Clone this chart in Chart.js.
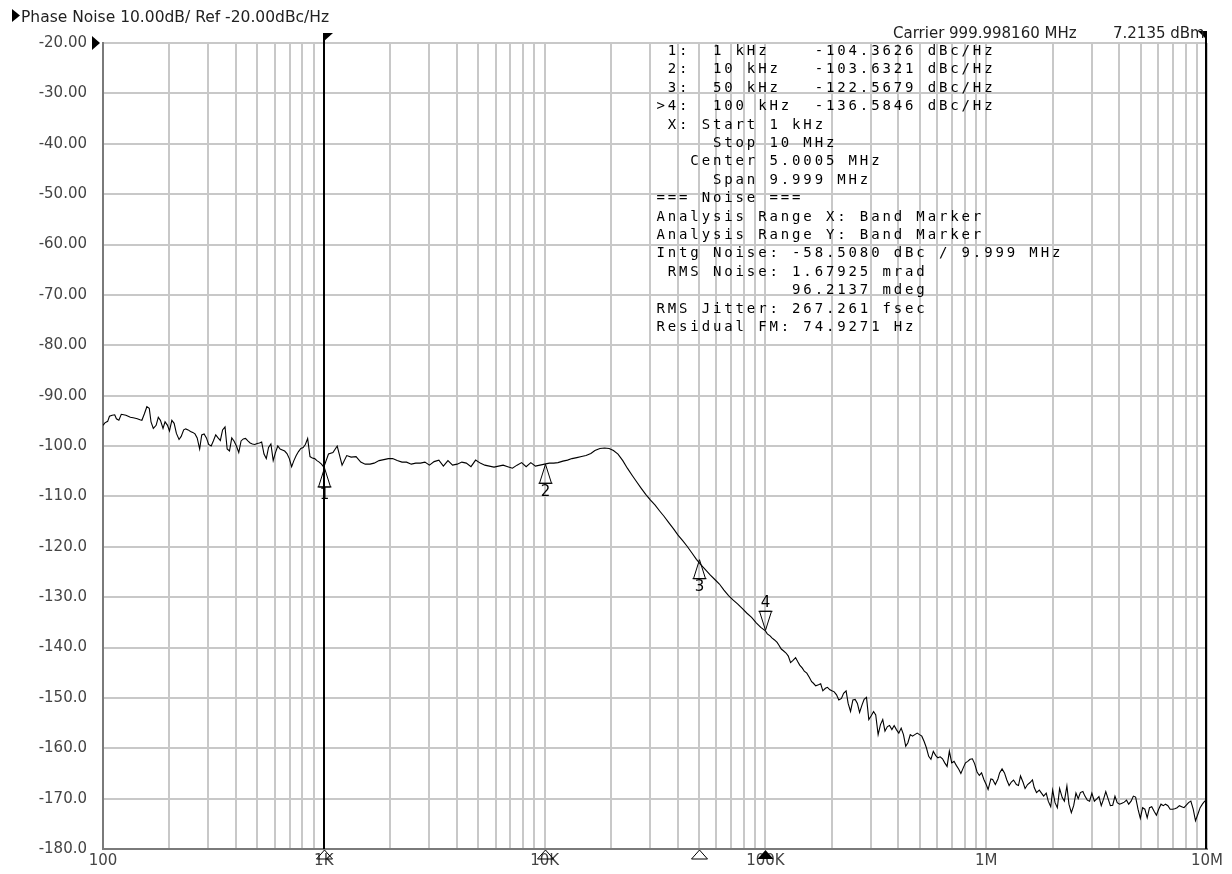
<!DOCTYPE html>
<html>
<head>
<meta charset="utf-8">
<script src="https://cdn.jsdelivr.net/npm/chart.js@4.4.1/dist/chart.umd.min.js"></script>
<style>
  html, body { margin: 0; padding: 0; background: #fff; }
  #wrap { width: 1232px; height: 874px; }
</style>
</head>
<body>
<div id="wrap"><canvas id="pn" width="1232" height="874"></canvas></div>
<script>
// Sweep grids: E48 / E96 mantissas in each decade, 100 Hz .. 10 MHz
const e48 = [1.00, 1.05, 1.10, 1.15, 1.21, 1.27, 1.33, 1.40, 1.47, 1.54, 1.62, 1.69,
             1.78, 1.87, 1.96, 2.05, 2.15, 2.26, 2.37, 2.49, 2.61, 2.74, 2.87, 3.01,
             3.16, 3.32, 3.48, 3.65, 3.83, 4.02, 4.22, 4.42, 4.64, 4.87, 5.11, 5.36,
             5.62, 5.90, 6.19, 6.49, 6.81, 7.15, 7.50, 7.87, 8.25, 8.66, 9.09, 9.53];
const e96 = [1.00, 1.02, 1.05, 1.07, 1.10, 1.13, 1.15, 1.18, 1.21, 1.24, 1.27, 1.30,
             1.33, 1.37, 1.40, 1.43, 1.47, 1.50, 1.54, 1.58, 1.62, 1.65, 1.69, 1.74,
             1.78, 1.82, 1.87, 1.91, 1.96, 2.00, 2.05, 2.10, 2.15, 2.21, 2.26, 2.32,
             2.37, 2.43, 2.49, 2.55, 2.61, 2.67, 2.74, 2.80, 2.87, 2.94, 3.01, 3.09,
             3.16, 3.24, 3.32, 3.40, 3.48, 3.57, 3.65, 3.74, 3.83, 3.92, 4.02, 4.12,
             4.22, 4.32, 4.42, 4.53, 4.64, 4.75, 4.87, 4.99, 5.11, 5.23, 5.36, 5.49,
             5.62, 5.76, 5.90, 6.04, 6.19, 6.34, 6.49, 6.65, 6.81, 6.98, 7.15, 7.32,
             7.50, 7.68, 7.87, 8.06, 8.25, 8.45, 8.66, 8.87, 9.09, 9.31, 9.53, 9.76];
const decades = [100, 1000, 10000, 100000, 1000000];
const sweepStop = 10000000;

// Phase noise trace (dBc/Hz), read per decade
const noise100Hz = [-95.9, -95.4, -95.1, -94.1, -93.9, -93.8, -94.6, -94.9, -93.7, -93.8, -93.9, -94.1,
                    -94.3, -94.4, -94.5, -94.6, -94.8, -94.9, -93.6, -92.2, -92.5, -95.2, -96.5, -95.9,
                    -94.3, -94.9, -96.5, -95.2, -95.9, -97.0, -94.9, -95.5, -97.5, -98.7, -98.1, -96.8,
                    -96.6, -96.8, -97.1, -97.3, -97.6, -98.4, -100.6, -97.8, -97.6, -98.4, -99.7, -100.0,
                    -99.0, -97.8, -98.4, -98.9, -96.8, -96.2, -100.6, -101.0, -98.4, -99.0, -100.0, -101.3,
                    -99.0, -98.6, -98.5, -99.0, -99.4, -99.6, -99.7, -99.5, -99.4, -99.2, -101.6, -102.5,
                    -100.3, -99.6, -102.9, -101.3, -100.0, -100.6, -100.8, -101.0, -101.5, -102.5, -104.1, -102.9,
                    -101.9, -101.1, -100.5, -100.3, -99.7, -98.5, -102.1, -102.4, -102.5, -102.9, -103.2, -103.6];
const noise1kHz = [-104.2, -101.6, -101.3, -100.0, -103.8, -101.9, -102.2, -102.1, -103.2, -103.6, -103.6, -103.4,
                   -102.9, -102.7, -102.5, -102.5, -102.9, -103.2, -103.2, -103.6, -103.4, -103.4, -103.2, -103.8,
                   -103.1, -102.8, -104.0, -102.9, -103.8, -103.6, -103.2, -103.4, -104.1, -102.8, -103.4, -103.8,
                   -104.0, -104.2, -104.0, -103.8, -104.1, -104.4, -103.8, -103.3, -104.1, -103.3, -104.0, -103.8];
const noise10kHz = [-103.6, -103.4, -103.4, -103.3, -103.0, -102.8, -102.5, -102.3, -102.1, -101.9, -101.5, -100.9,
                    -100.5, -100.4, -100.5, -100.9, -101.6, -102.9, -104.4, -105.8, -107.1, -108.4, -109.6, -110.7,
                    -111.7, -112.9, -114.0, -115.2, -116.4, -117.7, -118.8, -119.9, -121.2, -122.5, -123.6, -124.6,
                    -125.6, -126.5, -127.4, -128.6, -129.7, -130.6, -131.4, -132.3, -133.2, -134.0, -135.1, -136.0];
const noise100kHz = [-136.7, -137.3, -137.7, -138.1, -138.5, -139.0, -139.5, -140.3, -140.7, -141.1, -141.7, -143.0,
                     -142.6, -142.0, -142.8, -143.5, -144.1, -144.7, -145.1, -145.9, -146.8, -147.1, -147.6, -147.4,
                     -147.2, -148.6, -148.1, -147.9, -148.4, -148.6, -148.8, -149.4, -150.4, -150.1, -149.1, -148.6,
                     -151.1, -152.7, -150.4, -150.3, -151.1, -152.9, -151.4, -150.3, -149.9, -154.3, -153.6, -152.7,
                     -153.4, -157.3, -155.3, -154.3, -156.6, -155.7, -155.5, -156.3, -155.5, -156.3, -157.0, -156.0,
                     -157.3, -159.6, -158.9, -157.3, -157.6, -157.3, -157.0, -157.3, -157.6, -158.6, -159.9, -161.6,
                     -162.2, -160.6, -161.4, -161.9, -161.7, -162.1, -162.9, -163.6, -160.6, -162.9, -162.6, -163.4,
                     -164.1, -165.0, -163.9, -162.9, -162.6, -162.2, -162.1, -163.1, -164.7, -165.4, -164.9, -166.2];
const noise1MHz = [-167.2, -168.2, -166.1, -166.2, -167.2, -166.1, -164.9, -164.1, -164.9, -166.3, -167.4, -166.7,
                   -166.3, -167.2, -167.4, -165.5, -166.8, -168.0, -167.2, -166.8, -166.3, -167.8, -168.8, -168.3,
                   -168.9, -169.5, -168.9, -170.5, -171.6, -168.3, -170.8, -171.8, -168.0, -169.8, -170.5, -167.5,
                   -171.1, -172.8, -171.4, -168.9, -170.0, -168.8, -168.6, -169.5, -170.3, -170.5, -168.9, -170.5,
                   -170.1, -169.6, -171.4, -170.1, -168.6, -170.1, -171.4, -171.3, -169.5, -170.8, -171.1, -170.9,
                   -170.7, -170.3, -171.1, -170.5, -169.5, -169.7, -172.1, -173.9, -171.8, -172.1, -173.8, -171.8,
                   -171.6, -172.5, -173.3, -172.1, -171.1, -171.4, -171.1, -171.4, -172.1, -172.1, -172.0, -171.8,
                   -171.4, -171.6, -171.8, -171.3, -170.8, -170.5, -172.1, -174.4, -173.1, -171.8, -171.1, -170.5];
const noiseStop = -170.3;
const decadeGrids = [e96, e48, e48, e96, e96];

// Markers
const markerNames = ['1', '2', '3', '4'];
const markerFreqs = [1000, 10000, 50000, 100000];
const markerFreqText = ['1 kHz', '10 kHz', '50 kHz', '100 kHz'];
const markerValues = [-104.3626, -103.6321, -122.5679, -136.5846];
const activeMarker = 3;
const bandStart = 1000;
const bandStop = 10000000;
const refLevel = -20;

// Axis labels
const decadeLabels = { 100: '100', 1000: '1K', 10000: '10K', 100000: '100K', 1000000: '1M', 10000000: '10M' };
const gridMantissas = [1, 2, 3, 4, 5, 6, 7, 8, 9];

const titleText = 'Phase Noise 10.00dB/ Ref -20.00dBc/Hz';
const carrierText = 'Carrier 999.998160 MHz';
const powerText = '7.2135 dBm';
const noiseLines = [
    ' X: Start 1 kHz',
    '     Stop 10 MHz',
    '   Center 5.0005 MHz',
    '     Span 9.999 MHz',
    '=== Noise ===',
    'Analysis Range X: Band Marker',
    'Analysis Range Y: Band Marker',
    'Intg Noise: -58.5080 dBc / 9.999 MHz',
    ' RMS Noise: 1.67925 mrad',
    '            96.2137 mdeg',
    'RMS Jitter: 267.261 fsec',
    'Residual FM: 74.9271 Hz'
];

// build the trace points
const freqs = [];
decades.forEach((d, i) => decadeGrids[i].forEach(m => freqs.push(+(d * m).toPrecision(3))));
freqs.push(sweepStop);
const values = [].concat(noise100Hz, noise1kHz, noise10kHz, noise100kHz, noise1MHz, [noiseStop]);
const tracePoints = freqs.map((f, i) => ({ x: f, y: values[i] }));

const gridTicks = [];
decades.forEach(d => gridMantissas.forEach(m => gridTicks.push({ value: d * m })));
gridTicks.push({ value: sweepStop });

const readoutLines = markerNames.map((n, i) =>
    (i === activeMarker ? '>' : ' ') + n + ':  ' + markerFreqText[i].padEnd(9) +
    markerValues[i].toFixed(4) + ' dBc/Hz').concat(noiseLines);

const axisFont = '15px "DejaVu Sans"';

function tri(ctx, pts, fill) {
    ctx.beginPath();
    ctx.moveTo(pts[0][0], pts[0][1]);
    ctx.lineTo(pts[1][0], pts[1][1]);
    ctx.lineTo(pts[2][0], pts[2][1]);
    ctx.closePath();
    if (fill) ctx.fill(); else ctx.stroke();
}

const overlay = {
    id: 'overlay',
    afterDatasetsDraw(chart) {
        const ctx = chart.ctx;
        const xs = chart.scales.x, ys = chart.scales.y;
        const area = chart.chartArea;
        ctx.save();

        // band marker lines with flags
        ctx.strokeStyle = '#000';
        ctx.fillStyle = '#000';
        ctx.lineWidth = 2;
        const bx0 = Math.round(xs.getPixelForValue(bandStart));
        const bx1 = Math.round(xs.getPixelForValue(bandStop));
        ctx.beginPath();
        ctx.moveTo(bx0, area.top - 10); ctx.lineTo(bx0, area.bottom);
        ctx.moveTo(bx1 - 1, area.top - 10); ctx.lineTo(bx1 - 1, area.bottom);
        ctx.stroke();
        tri(ctx, [[bx0 - 1, area.top - 10], [bx0 + 9, area.top - 10], [bx0 - 1, area.top - 1]], true);
        tri(ctx, [[bx1 - 9, area.top - 12], [bx1, area.top - 12], [bx1, area.top - 3]], true);

        // marker symbols on the trace
        ctx.lineWidth = 1;
        ctx.font = axisFont;
        ctx.textAlign = 'center';
        markerFreqs.forEach((f, i) => {
            const mx = Math.round(xs.getPixelForValue(f)) + 0.5;
            const my = ys.getPixelForValue(markerValues[i]);
            if (i === activeMarker) {
                tri(ctx, [[mx, my], [mx - 6, my - 19], [mx + 6, my - 19]], false);
                ctx.beginPath(); ctx.moveTo(mx - 7, my - 19); ctx.lineTo(mx + 7, my - 19); ctx.stroke();
                ctx.textBaseline = 'bottom';
                ctx.fillText(markerNames[i], mx, my - 20);
            } else {
                tri(ctx, [[mx, my], [mx - 6, my + 19], [mx + 6, my + 19]], false);
                ctx.beginPath(); ctx.moveTo(mx - 7, my + 19); ctx.lineTo(mx + 7, my + 19); ctx.stroke();
                ctx.textBaseline = 'top';
                ctx.fillText(markerNames[i], mx, my + 20);
            }
            // marker position under the axis
            const by = area.bottom + 1;
            tri(ctx, [[mx, by], [mx - 8, by + 9], [mx + 8, by + 9]], i === activeMarker);
        });

        // reference level pointer
        const ry = ys.getPixelForValue(refLevel);
        tri(ctx, [[area.left - 11, ry - 7], [area.left - 11, ry + 7], [area.left - 3, ry]], true);

        // title and carrier
        ctx.textAlign = 'left';
        ctx.textBaseline = 'alphabetic';
        tri(ctx, [[12, 9], [12, 22], [20, 15.5]], true);
        ctx.fillStyle = '#222';
        ctx.font = '15.5px "DejaVu Sans"';
        ctx.fillText(titleText, 21, 22);
        ctx.font = axisFont;
        ctx.fillText(carrierText, 893, 38);
        ctx.fillText(powerText, 1113, 38);

        // readout block, fixed pitch
        ctx.fillStyle = '#000';
        ctx.font = '14px "DejaVu Sans Mono"';
        ctx.textAlign = 'center';
        const pitch = 11.3;
        readoutLines.forEach((line, r) => {
            const y = 55 + r * 18.4;
            for (let c = 0; c < line.length; c++) {
                if (line[c] !== ' ') ctx.fillText(line[c], 655 + c * pitch + pitch / 2, y);
            }
        });
        ctx.restore();
    }
};

const chart = new Chart(document.getElementById('pn'), {
    type: 'line',
    data: {
        datasets: [{
            data: tracePoints,
            borderColor: '#000',
            borderWidth: 1.1,
            pointRadius: 0,
            tension: 0,
            fill: false
        }]
    },
    options: {
        responsive: false,
        animation: false,
        layout: { padding: { top: 43, right: 25, bottom: 0, left: 0 } },
        plugins: { legend: { display: false }, tooltip: { enabled: false } },
        scales: {
            x: {
                type: 'logarithmic',
                min: 100,
                max: sweepStop,
                afterBuildTicks: s => { s.ticks = gridTicks.map(t => ({ value: t.value })); },
                afterFit: s => { s.height = 19; },
                grid: { color: '#c8c8c8', lineWidth: 2, drawTicks: false },
                border: { display: true, color: '#7a7a7a', width: 2 },
                ticks: {
                    autoSkip: false,
                    maxRotation: 0,
                    padding: 3,
                    color: '#444',
                    font: { family: 'DejaVu Sans', size: 15 },
                    callback: v => decadeLabels[v] || ''
                }
            },
            y: {
                min: -180,
                max: -20,
                afterFit: s => { s.width = 103; },
                grid: { color: '#c8c8c8', lineWidth: 2, drawTicks: false },
                border: { display: true, color: '#7a7a7a', width: 2 },
                ticks: {
                    stepSize: 10,
                    padding: 16,
                    color: '#444',
                    font: { family: 'DejaVu Sans', size: 15 },
                    callback: v => v > -100 ? v.toFixed(2) : v.toFixed(1)
                }
            }
        }
    },
    plugins: [overlay]
});
</script>
</body>
</html>
